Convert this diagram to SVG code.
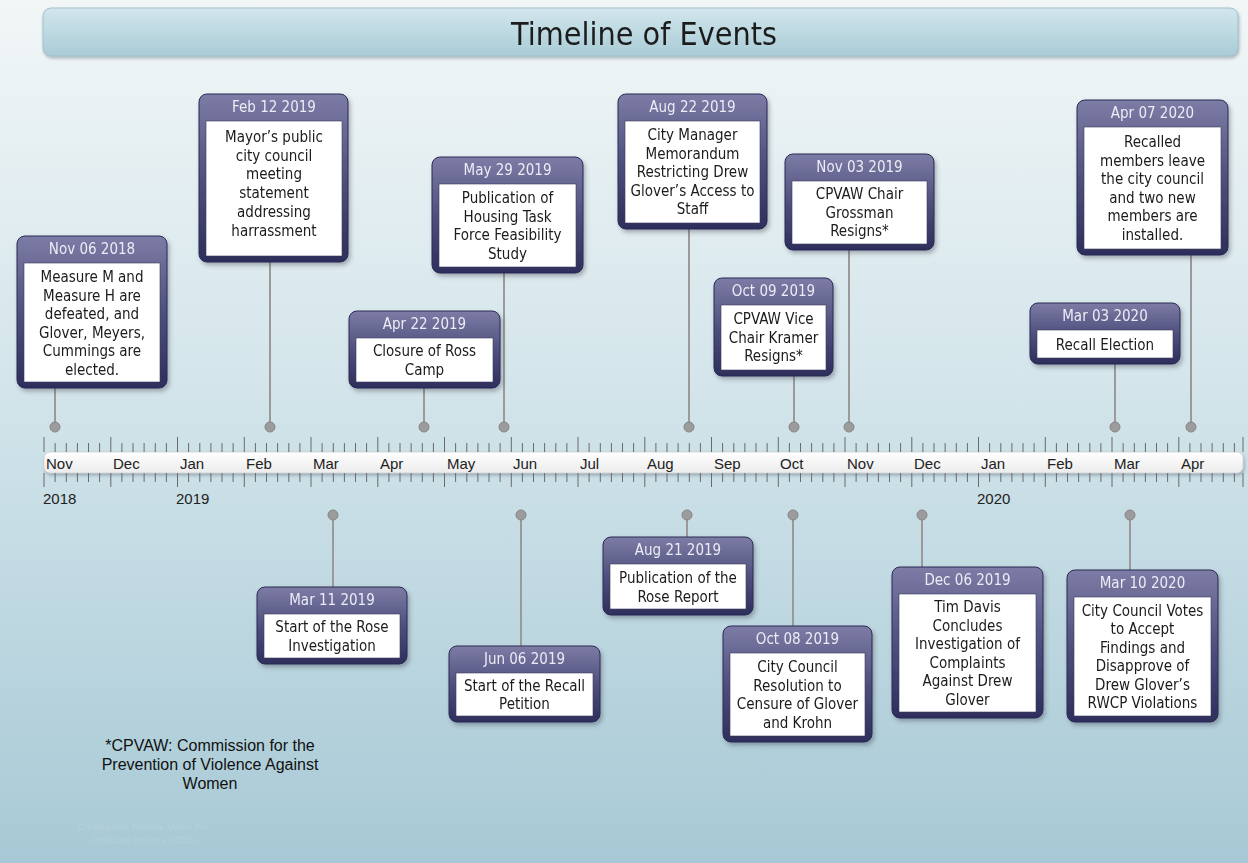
<svg xmlns="http://www.w3.org/2000/svg" width="1248" height="863" viewBox="0 0 1248 863">
<defs>
<linearGradient id="bg" x1="0" y1="0" x2="0" y2="1">
<stop offset="0" stop-color="#f2f6f7"/>
<stop offset="0.45" stop-color="#d3e5eb"/>
<stop offset="1" stop-color="#a7c9d5"/>
</linearGradient>
<linearGradient id="titleg" x1="0" y1="0" x2="0" y2="1">
<stop offset="0" stop-color="#d2e6ec"/>
<stop offset="1" stop-color="#a9ccd7"/>
</linearGradient>
<linearGradient id="cardg" x1="0" y1="0" x2="0" y2="1">
<stop offset="0" stop-color="#7c7ca6"/>
<stop offset="0.5" stop-color="#50507e"/>
<stop offset="1" stop-color="#2e2e5c"/>
</linearGradient>
<linearGradient id="barg" x1="0" y1="0" x2="0" y2="1">
<stop offset="0" stop-color="#ffffff"/>
<stop offset="1" stop-color="#ececec"/>
</linearGradient>
<filter id="sh" x="-10%" y="-10%" width="125%" height="130%">
<feDropShadow dx="2" dy="3" stdDeviation="2" flood-color="#334" flood-opacity="0.35"/>
</filter>
<filter id="sh2" x="-5%" y="-20%" width="110%" height="160%">
<feDropShadow dx="1" dy="2" stdDeviation="1.5" flood-color="#345" flood-opacity="0.35"/>
</filter>
</defs>
<style>
.card{fill:url(#cardg);stroke:#2b2b55;stroke-width:1}
.box{fill:#fff;stroke:#3a3a5a;stroke-width:0.6}
.hd{font-family:"DejaVu Sans Condensed","Liberation Sans",sans-serif;font-size:15px;fill:#ececf6;text-anchor:middle}
.tx{font-family:"DejaVu Sans Condensed","Liberation Sans",sans-serif;font-size:15px;fill:#1a1a1a;text-anchor:middle}
.stem{stroke:#9a9a9a;stroke-width:2;fill:none}
.dot{fill:#9c9c9c;stroke:#858585;stroke-width:1}
.mon{font-family:"Liberation Sans",Arial,sans-serif;font-size:15px;fill:#222}
.tick{stroke:#6a6a6a;stroke-width:1}
.foot{font-family:"Liberation Sans",Arial,sans-serif;font-size:16px;fill:#111;text-anchor:middle}
.faint{font-family:"Liberation Sans",Arial,sans-serif;font-size:9px;fill:#b3d2dc;text-anchor:middle}
</style>
<rect x="0" y="0" width="1248" height="863" fill="url(#bg)"/>
<g id="title" filter="url(#sh2)">
<rect x="43" y="8" width="1195" height="48" rx="8" fill="url(#titleg)" stroke="#9fc2cd" stroke-width="1"/>
<text x="644" y="45" style="font-family:'DejaVu Sans Condensed','Liberation Sans',sans-serif;font-size:32px;fill:#1e1e1e;text-anchor:middle">Timeline of Events</text>
</g>
<g id="axis">
<rect x="44" y="452" width="1199" height="21" rx="6" fill="url(#barg)" stroke="#cfcfcf" stroke-width="0.8" filter="url(#sh2)"/>
<path class="tick" d="M44 437V452M44 473V487M55.1 443V452M55.1 473V482M66.3 443V452M66.3 473V482M77.4 443V452M77.4 473V482M88.5 443V452M88.5 473V482M99.6 443V452M99.6 473V482M110.8 437V452M110.8 473V487M121.9 443V452M121.9 473V482M133 443V452M133 473V482M144.1 443V452M144.1 473V482M155.3 443V452M155.3 473V482M166.4 443V452M166.4 473V482M177.5 437V452M177.5 473V487M188.6 443V452M188.6 473V482M199.8 443V452M199.8 473V482M210.9 443V452M210.9 473V482M222 443V452M222 473V482M233.1 443V452M233.1 473V482M244.3 437V452M244.3 473V487M255.4 443V452M255.4 473V482M266.5 443V452M266.5 473V482M277.6 443V452M277.6 473V482M288.8 443V452M288.8 473V482M299.9 443V452M299.9 473V482M311 437V452M311 473V487M322.1 443V452M322.1 473V482M333.3 443V452M333.3 473V482M344.4 443V452M344.4 473V482M355.5 443V452M355.5 473V482M366.6 443V452M366.6 473V482M377.8 437V452M377.8 473V487M388.9 443V452M388.9 473V482M400 443V452M400 473V482M411.1 443V452M411.1 473V482M422.3 443V452M422.3 473V482M433.4 443V452M433.4 473V482M444.5 437V452M444.5 473V487M455.6 443V452M455.6 473V482M466.8 443V452M466.8 473V482M477.9 443V452M477.9 473V482M489 443V452M489 473V482M500.1 443V452M500.1 473V482M511.3 437V452M511.3 473V487M522.4 443V452M522.4 473V482M533.5 443V452M533.5 473V482M544.6 443V452M544.6 473V482M555.8 443V452M555.8 473V482M566.9 443V452M566.9 473V482M578 437V452M578 473V487M589.1 443V452M589.1 473V482M600.3 443V452M600.3 473V482M611.4 443V452M611.4 473V482M622.5 443V452M622.5 473V482M633.6 443V452M633.6 473V482M644.8 437V452M644.8 473V487M655.9 443V452M655.9 473V482M667 443V452M667 473V482M678.1 443V452M678.1 473V482M689.3 443V452M689.3 473V482M700.4 443V452M700.4 473V482M711.5 437V452M711.5 473V487M722.6 443V452M722.6 473V482M733.8 443V452M733.8 473V482M744.9 443V452M744.9 473V482M756 443V452M756 473V482M767.1 443V452M767.1 473V482M778.3 437V452M778.3 473V487M789.4 443V452M789.4 473V482M800.5 443V452M800.5 473V482M811.6 443V452M811.6 473V482M822.8 443V452M822.8 473V482M833.9 443V452M833.9 473V482M845 437V452M845 473V487M856.1 443V452M856.1 473V482M867.3 443V452M867.3 473V482M878.4 443V452M878.4 473V482M889.5 443V452M889.5 473V482M900.6 443V452M900.6 473V482M911.8 437V452M911.8 473V487M922.9 443V452M922.9 473V482M934 443V452M934 473V482M945.1 443V452M945.1 473V482M956.3 443V452M956.3 473V482M967.4 443V452M967.4 473V482M978.5 437V452M978.5 473V487M989.6 443V452M989.6 473V482M1000.8 443V452M1000.8 473V482M1011.9 443V452M1011.9 473V482M1023 443V452M1023 473V482M1034.1 443V452M1034.1 473V482M1045.3 437V452M1045.3 473V487M1056.4 443V452M1056.4 473V482M1067.5 443V452M1067.5 473V482M1078.6 443V452M1078.6 473V482M1089.8 443V452M1089.8 473V482M1100.9 443V452M1100.9 473V482M1112 437V452M1112 473V487M1123.1 443V452M1123.1 473V482M1134.3 443V452M1134.3 473V482M1145.4 443V452M1145.4 473V482M1156.5 443V452M1156.5 473V482M1167.6 443V452M1167.6 473V482M1178.8 437V452M1178.8 473V487M1189.9 443V452M1189.9 473V482M1201 443V452M1201 473V482M1212.1 443V452M1212.1 473V482M1223.3 443V452M1223.3 473V482M1234.4 443V452M1234.4 473V482M1243 437V452M1243 473V487"/>
<text class="mon" x="46" y="469">Nov</text>
<text class="mon" x="113" y="469">Dec</text>
<text class="mon" x="180" y="469">Jan</text>
<text class="mon" x="246" y="469">Feb</text>
<text class="mon" x="313" y="469">Mar</text>
<text class="mon" x="380" y="469">Apr</text>
<text class="mon" x="447" y="469">May</text>
<text class="mon" x="513" y="469">Jun</text>
<text class="mon" x="580" y="469">Jul</text>
<text class="mon" x="647" y="469">Aug</text>
<text class="mon" x="714" y="469">Sep</text>
<text class="mon" x="780" y="469">Oct</text>
<text class="mon" x="847" y="469">Nov</text>
<text class="mon" x="914" y="469">Dec</text>
<text class="mon" x="981" y="469">Jan</text>
<text class="mon" x="1047" y="469">Feb</text>
<text class="mon" x="1114" y="469">Mar</text>
<text class="mon" x="1181" y="469">Apr</text>
<text class="mon" x="43" y="504">2018</text>
<text class="mon" x="176" y="504">2019</text>
<text class="mon" x="977" y="504">2020</text>
</g>
<g id="connectors">
<path class="stem" d="M55 388V427M270 262V427M424 388V427M504 273V427M689 229V427M794 376V427M849 250V427M1115 364V427M1191 255V427M333 515V587M521 515V646M687 515V537M793 515V626M922 515V567M1130 515V570"/>
<circle class="dot" cx="55" cy="427" r="5"/>
<circle class="dot" cx="270" cy="427" r="5"/>
<circle class="dot" cx="424" cy="427" r="5"/>
<circle class="dot" cx="504" cy="427" r="5"/>
<circle class="dot" cx="689" cy="427" r="5"/>
<circle class="dot" cx="794" cy="427" r="5"/>
<circle class="dot" cx="849" cy="427" r="5"/>
<circle class="dot" cx="1115" cy="427" r="5"/>
<circle class="dot" cx="1191" cy="427" r="5"/>
<circle class="dot" cx="333" cy="515" r="5"/>
<circle class="dot" cx="521" cy="515" r="5"/>
<circle class="dot" cx="687" cy="515" r="5"/>
<circle class="dot" cx="793" cy="515" r="5"/>
<circle class="dot" cx="922" cy="515" r="5"/>
<circle class="dot" cx="1130" cy="515" r="5"/>
</g>
<g id="ev-nov06-2018" filter="url(#sh)">
<rect class="card" x="17" y="236" width="150" height="152" rx="8"/>
<rect class="box" x="24" y="263" width="136" height="119"/>
<text class="hd" x="92" y="254">Nov 06 2018</text>
<text class="tx" x="92" y="282"><tspan x="92">Measure M and</tspan><tspan x="92" dy="18.5">Measure H are</tspan><tspan x="92" dy="18.5">defeated, and</tspan><tspan x="92" dy="18.5">Glover, Meyers,</tspan><tspan x="92" dy="18.5">Cummings are</tspan><tspan x="92" dy="18.5">elected.</tspan></text>
</g>
<g id="ev-feb12-2019" filter="url(#sh)">
<rect class="card" x="199" y="94" width="149" height="168" rx="8"/>
<rect class="box" x="206" y="121" width="136" height="135"/>
<text class="hd" x="274" y="112">Feb 12 2019</text>
<text class="tx" x="274" y="142"><tspan x="274">Mayor’s public</tspan><tspan x="274" dy="18.7">city council</tspan><tspan x="274" dy="18.7">meeting</tspan><tspan x="274" dy="18.7">statement</tspan><tspan x="274" dy="18.7">addressing</tspan><tspan x="274" dy="18.7">harrassment</tspan></text>
</g>
<g id="ev-apr22-2019" filter="url(#sh)">
<rect class="card" x="349" y="311" width="151" height="77" rx="8"/>
<rect class="box" x="356" y="338" width="137" height="44"/>
<text class="hd" x="424.5" y="329">Apr 22 2019</text>
<text class="tx" x="424.5" y="356"><tspan x="424.5">Closure of Ross</tspan><tspan x="424.5" dy="18.5">Camp</tspan></text>
</g>
<g id="ev-may29-2019" filter="url(#sh)">
<rect class="card" x="432" y="157" width="151" height="116" rx="8"/>
<rect class="box" x="439" y="184" width="137" height="83"/>
<text class="hd" x="507.5" y="175">May 29 2019</text>
<text class="tx" x="507.5" y="203"><tspan x="507.5">Publication of</tspan><tspan x="507.5" dy="18.5">Housing Task</tspan><tspan x="507.5" dy="18.5">Force Feasibility</tspan><tspan x="507.5" dy="18.5">Study</tspan></text>
</g>
<g id="ev-aug22-2019" filter="url(#sh)">
<rect class="card" x="618" y="94" width="149" height="135" rx="8"/>
<rect class="box" x="625" y="121" width="135" height="102"/>
<text class="hd" x="692.5" y="112">Aug 22 2019</text>
<text class="tx" x="692.5" y="140"><tspan x="692.5">City Manager</tspan><tspan x="692.5" dy="18.5">Memorandum</tspan><tspan x="692.5" dy="18.5">Restricting Drew</tspan><tspan x="692.5" dy="18.5">Glover’s Access to</tspan><tspan x="692.5" dy="18.5">Staff</tspan></text>
</g>
<g id="ev-oct09-2019" filter="url(#sh)">
<rect class="card" x="714" y="278" width="119" height="98" rx="8"/>
<rect class="box" x="721" y="305" width="105" height="65"/>
<text class="hd" x="773.5" y="296">Oct 09 2019</text>
<text class="tx" x="773.5" y="324"><tspan x="773.5">CPVAW Vice</tspan><tspan x="773.5" dy="18.5">Chair Kramer</tspan><tspan x="773.5" dy="18.5">Resigns*</tspan></text>
</g>
<g id="ev-nov03-2019" filter="url(#sh)">
<rect class="card" x="785" y="154" width="149" height="96" rx="8"/>
<rect class="box" x="792" y="181" width="135" height="63"/>
<text class="hd" x="859.5" y="172">Nov 03 2019</text>
<text class="tx" x="859.5" y="199"><tspan x="859.5">CPVAW Chair</tspan><tspan x="859.5" dy="18.5">Grossman</tspan><tspan x="859.5" dy="18.5">Resigns*</tspan></text>
</g>
<g id="ev-mar03-2020" filter="url(#sh)">
<rect class="card" x="1030" y="303" width="150" height="61" rx="8"/>
<rect class="box" x="1037" y="330" width="136" height="28"/>
<text class="hd" x="1105" y="321">Mar 03 2020</text>
<text class="tx" x="1105" y="349.5">Recall Election</text>
</g>
<g id="ev-apr07-2020" filter="url(#sh)">
<rect class="card" x="1077" y="100" width="151" height="155" rx="8"/>
<rect class="box" x="1084" y="127" width="137" height="122"/>
<text class="hd" x="1152.5" y="118">Apr 07 2020</text>
<text class="tx" x="1152.5" y="147"><tspan x="1152.5">Recalled</tspan><tspan x="1152.5" dy="18.5">members leave</tspan><tspan x="1152.5" dy="18.5">the city council</tspan><tspan x="1152.5" dy="18.5">and two new</tspan><tspan x="1152.5" dy="18.5">members are</tspan><tspan x="1152.5" dy="18.5">installed.</tspan></text>
</g>
<g id="ev-mar11-2019" filter="url(#sh)">
<rect class="card" x="257" y="587" width="150" height="77" rx="8"/>
<rect class="box" x="264" y="614" width="136" height="44"/>
<text class="hd" x="332" y="605">Mar 11 2019</text>
<text class="tx" x="332" y="632"><tspan x="332">Start of the Rose</tspan><tspan x="332" dy="18.5">Investigation</tspan></text>
</g>
<g id="ev-jun06-2019" filter="url(#sh)">
<rect class="card" x="449" y="646" width="151" height="76" rx="8"/>
<rect class="box" x="456" y="673" width="137" height="43"/>
<text class="hd" x="524.5" y="664">Jun 06 2019</text>
<text class="tx" x="524.5" y="690.5"><tspan x="524.5">Start of the Recall</tspan><tspan x="524.5" dy="18.5">Petition</tspan></text>
</g>
<g id="ev-aug21-2019" filter="url(#sh)">
<rect class="card" x="603" y="537" width="150" height="78" rx="8"/>
<rect class="box" x="610" y="564" width="136" height="45"/>
<text class="hd" x="678" y="555">Aug 21 2019</text>
<text class="tx" x="678" y="583"><tspan x="678">Publication of the</tspan><tspan x="678" dy="18.5">Rose Report</tspan></text>
</g>
<g id="ev-oct08-2019" filter="url(#sh)">
<rect class="card" x="723" y="626" width="149" height="116" rx="8"/>
<rect class="box" x="730" y="653" width="135" height="83"/>
<text class="hd" x="797.5" y="644">Oct 08 2019</text>
<text class="tx" x="797.5" y="672"><tspan x="797.5">City Council</tspan><tspan x="797.5" dy="18.5">Resolution to</tspan><tspan x="797.5" dy="18.5">Censure of Glover</tspan><tspan x="797.5" dy="18.5">and Krohn</tspan></text>
</g>
<g id="ev-dec06-2019" filter="url(#sh)">
<rect class="card" x="892" y="567" width="151" height="151" rx="8"/>
<rect class="box" x="899" y="594" width="137" height="118"/>
<text class="hd" x="967.5" y="585">Dec 06 2019</text>
<text class="tx" x="967.5" y="612"><tspan x="967.5">Tim Davis</tspan><tspan x="967.5" dy="18.5">Concludes</tspan><tspan x="967.5" dy="18.5">Investigation of</tspan><tspan x="967.5" dy="18.5">Complaints</tspan><tspan x="967.5" dy="18.5">Against Drew</tspan><tspan x="967.5" dy="18.5">Glover</tspan></text>
</g>
<g id="ev-mar10-2020" filter="url(#sh)">
<rect class="card" x="1067" y="570" width="151" height="152" rx="8"/>
<rect class="box" x="1074" y="597" width="137" height="119"/>
<text class="hd" x="1142.5" y="588">Mar 10 2020</text>
<text class="tx" x="1142.5" y="615.5"><tspan x="1142.5">City Council Votes</tspan><tspan x="1142.5" dy="18.5">to Accept</tspan><tspan x="1142.5" dy="18.5">Findings and</tspan><tspan x="1142.5" dy="18.5">Disapprove of</tspan><tspan x="1142.5" dy="18.5">Drew Glover’s</tspan><tspan x="1142.5" dy="18.5">RWCP Violations</tspan></text>
</g>
<g id="footnote">
<text class="foot" x="210" y="751"><tspan x="210">*CPVAW: Commission for the</tspan><tspan x="210" dy="19">Prevention of Violence Against</tspan><tspan x="210" dy="19">Women</tspan></text>
<text class="faint" x="143" y="830"><tspan x="143">Created with Timeline Maker Pro</tspan><tspan x="143" dy="13">Produced on Jun 17 2020</tspan></text>
</g>
</svg>
